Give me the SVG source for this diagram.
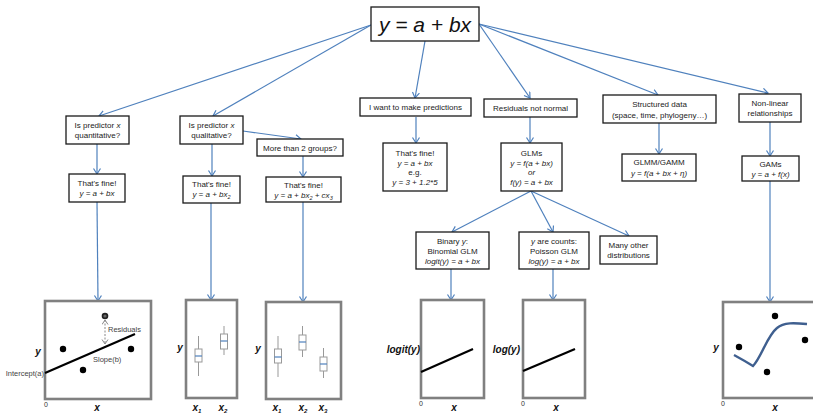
<svg xmlns="http://www.w3.org/2000/svg" width="813" height="413" viewBox="0 0 813 413">
<defs>
<marker id="arr" markerUnits="userSpaceOnUse" markerWidth="10" markerHeight="10" refX="6" refY="4" orient="auto">
<path d="M0.5,0.5 L6,4 L0.5,7.5" fill="none" stroke="#4f81bd" stroke-width="1.2"/>
</marker>
<marker id="garr" markerUnits="userSpaceOnUse" markerWidth="10" markerHeight="10" refX="5" refY="3.5" orient="auto-start-reverse">
<path d="M0.5,0.5 L5,3.5 L0.5,6.5" fill="none" stroke="#888" stroke-width="1"/>
</marker>
<style>
.box{fill:#fff;stroke:#1a1a1a;stroke-width:1.3}
.t{font-family:"Liberation Sans",Arial,sans-serif;font-size:8px;fill:#222;text-anchor:middle}
.i{font-style:italic}
.c{fill:none;stroke:#4f81bd;stroke-width:1.2;marker-end:url(#arr)}
.frame{fill:#fff;stroke:#808080;stroke-width:2.6}
.ax{font-family:"Liberation Sans",Arial,sans-serif;font-size:10px;font-weight:bold;font-style:italic;fill:#111;text-anchor:middle}
.zero{font-family:"Liberation Sans",Arial,sans-serif;font-size:7px;fill:#333;text-anchor:middle}
.sm{font-family:"Liberation Sans",Arial,sans-serif;font-size:7.5px;fill:#444}
.bp{fill:#fff;stroke:#999;stroke-width:1}
.med{stroke:#4f81bd;stroke-width:1.2}
.fit{stroke:#000;stroke-width:2.2}
</style>
</defs>
<rect width="813" height="413" fill="#fff"/>

<g id="connectors">
<line class="c" x1="371" y1="25" x2="99" y2="116"/>
<line class="c" x1="371" y1="25" x2="213" y2="116"/>
<line class="c" x1="425" y1="41" x2="415" y2="98"/>
<line class="c" x1="479" y1="24" x2="530" y2="98"/>
<line class="c" x1="479" y1="24" x2="658" y2="95"/>
<line class="c" x1="479" y1="24" x2="768" y2="93"/>
<line class="c" x1="97" y1="144" x2="97" y2="174"/>
<line class="c" x1="212" y1="144" x2="212" y2="176"/>
<line class="c" x1="243" y1="131" x2="301" y2="139"/>
<line class="c" x1="303" y1="156" x2="303" y2="177"/>
<line class="c" x1="416" y1="117" x2="416" y2="143"/>
<line class="c" x1="530" y1="117" x2="530" y2="143"/>
<line class="c" x1="659" y1="123" x2="659" y2="154"/>
<line class="c" x1="770" y1="122" x2="770" y2="156"/>
<line class="c" x1="531" y1="191" x2="452" y2="232"/>
<line class="c" x1="531" y1="191" x2="553" y2="232"/>
<line class="c" x1="531" y1="191" x2="629" y2="236"/>
<line class="c" x1="97" y1="202" x2="98" y2="301"/>
<line class="c" x1="211" y1="202" x2="211" y2="300"/>
<line class="c" x1="303" y1="202" x2="303" y2="302"/>
<line class="c" x1="451" y1="269" x2="451" y2="300"/>
<line class="c" x1="553" y1="269" x2="553" y2="300"/>
<line class="c" x1="770" y1="181" x2="770" y2="302"/>
</g>

<g id="root">
<rect class="box" x="371" y="7" width="108" height="34"/>
<text class="t i" x="425" y="32" style="font-size:21px;fill:#111">y = a + bx</text>
</g>

<g id="quant">
<rect class="box" x="66" y="116" width="63" height="28"/>
<text class="t" x="97.5" y="128">Is predictor <tspan class="i">x</tspan></text>
<text class="t" x="97.5" y="138">quantitative?</text>
</g>
<g id="fine1">
<rect class="box" x="69" y="174" width="56" height="28"/>
<text class="t" x="97" y="186">That's fine!</text>
<text class="t i" x="97" y="196">y = a + bx</text>
</g>

<g id="qual">
<rect class="box" x="180" y="116" width="63" height="28"/>
<text class="t" x="211.5" y="128">Is predictor <tspan class="i">x</tspan></text>
<text class="t" x="211.5" y="138">qualitative?</text>
</g>
<g id="fine2">
<rect class="box" x="183" y="176" width="57" height="27"/>
<text class="t" x="211.5" y="187">That's fine!</text>
<text class="t i" x="211.5" y="197">y = a + bx<tspan font-size="5.5" dy="2">2</tspan></text>
</g>

<g id="groups">
<rect class="box" x="257" y="139" width="86" height="17"/>
<text class="t" x="300" y="150.5">More than 2 groups?</text>
</g>
<g id="fine3">
<rect class="box" x="266" y="177" width="75" height="25"/>
<text class="t" x="303.5" y="187.5">That's fine!</text>
<text class="t i" x="303.5" y="197.5">y = a + bx<tspan font-size="5.5" dy="2">2</tspan><tspan dy="-2"> + cx</tspan><tspan font-size="5.5" dy="2">3</tspan></text>
</g>

<g id="predict">
<rect class="box" x="360" y="98" width="111" height="18"/>
<text class="t" x="415.5" y="110">I want to make predictions</text>
</g>
<g id="fine4">
<rect class="box" x="383" y="143" width="64" height="48"/>
<text class="t" x="415" y="156">That's fine!</text>
<text class="t i" x="415" y="166">y = a + bx</text>
<text class="t" x="415" y="175">e.g.</text>
<text class="t i" x="415" y="184.5">y = 3 + 1.2*5</text>
</g>

<g id="resid">
<rect class="box" x="484" y="99" width="93" height="18"/>
<text class="t" x="530.5" y="111">Residuals not normal</text>
</g>
<g id="glms">
<rect class="box" x="501" y="143" width="61" height="48"/>
<text class="t" x="531.5" y="156">GLMs</text>
<text class="t i" x="531.5" y="166">y = f(a + bx)</text>
<text class="t i" x="531.5" y="175">or</text>
<text class="t i" x="531.5" y="184.5">f(y) = a + bx</text>
</g>

<g id="struct">
<rect class="box" x="603" y="95" width="113" height="28"/>
<text class="t" x="659.5" y="107">Structured data</text>
<text class="t" x="659.5" y="117.5">(space, time, phylogeny…)</text>
</g>
<g id="glmm">
<rect class="box" x="622" y="154" width="74" height="27"/>
<text class="t" x="659" y="165">GLMM/GAMM</text>
<text class="t i" x="659" y="175.5">y = f(a + bx + η)</text>
</g>

<g id="nonlin">
<rect class="box" x="739" y="94" width="62" height="28"/>
<text class="t" x="770" y="105.5">Non-linear</text>
<text class="t" x="770" y="116">relationships</text>
</g>
<g id="gams">
<rect class="box" x="742" y="156" width="57" height="25"/>
<text class="t" x="770.5" y="166.5">GAMs</text>
<text class="t i" x="770.5" y="177">y = a + f(x)</text>
</g>

<g id="binary">
<rect class="box" x="416" y="232" width="73" height="37"/>
<text class="t" x="452.5" y="244">Binary <tspan class="i">y</tspan>:</text>
<text class="t" x="452.5" y="254">Binomial GLM</text>
<text class="t i" x="452.5" y="263.5">logit(y) = a + bx</text>
</g>
<g id="counts">
<rect class="box" x="519" y="232" width="70" height="37"/>
<text class="t" x="554" y="244"><tspan class="i">y</tspan> are counts:</text>
<text class="t" x="554" y="254">Poisson GLM</text>
<text class="t i" x="554" y="263.5">log(y) = a + bx</text>
</g>
<g id="other">
<rect class="box" x="600" y="236" width="57" height="28"/>
<text class="t" x="628.5" y="248">Many other</text>
<text class="t" x="628.5" y="258">distributions</text>
</g>

<g id="plot1">
<rect class="frame" x="45" y="301" width="106" height="98"/>
<line class="fit" x1="45" y1="373" x2="135" y2="334"/>
<circle cx="63" cy="349" r="3.2" fill="#000"/>
<circle cx="83" cy="370" r="3.2" fill="#000"/>
<circle cx="131" cy="349" r="3.2" fill="#000"/>
<circle cx="105" cy="316" r="3.3" fill="#222"/>
<circle cx="105" cy="316" r="1.6" fill="#666"/>
<line x1="105" y1="320" x2="105" y2="344" stroke="#888" stroke-width="1" stroke-dasharray="2,1.5" marker-start="url(#garr)" marker-end="url(#garr)"/>
<text class="sm" x="108" y="332">Residuals</text>
<text class="sm" x="93" y="362">Slope(b)</text>
<text class="sm" x="44" y="376" text-anchor="end">Intercept(a)</text>
<text class="ax" x="38" y="355">y</text>
<text class="zero" x="46" y="407">0</text>
<text class="ax" x="97" y="411">x</text>
</g>

<g id="plot2">
<rect class="frame" x="186" y="300" width="51" height="98"/>
<line x1="198.5" y1="336" x2="198.5" y2="376" stroke="#999" stroke-width="1"/>
<rect class="bp" x="195" y="349" width="7" height="13"/>
<line class="med" x1="195" y1="356" x2="202" y2="356"/>
<line x1="224" y1="326" x2="224" y2="355" stroke="#999" stroke-width="1"/>
<rect class="bp" x="220.5" y="334" width="7" height="15"/>
<line class="med" x1="220.5" y1="341" x2="227.5" y2="341"/>
<text class="ax" x="180" y="351">y</text>
<text class="ax" x="197" y="411">x<tspan font-size="6" dy="2">1</tspan></text>
<text class="ax" x="223" y="411">x<tspan font-size="6" dy="2">2</tspan></text>
</g>

<g id="plot3">
<rect class="frame" x="266" y="302" width="75" height="97"/>
<line x1="278" y1="336" x2="278" y2="377" stroke="#999" stroke-width="1"/>
<rect class="bp" x="274.5" y="349" width="7" height="14"/>
<line class="med" x1="274.5" y1="357" x2="281.5" y2="357"/>
<line x1="302.5" y1="326" x2="302.5" y2="357" stroke="#999" stroke-width="1"/>
<rect class="bp" x="299" y="335" width="7" height="15"/>
<line class="med" x1="299" y1="342" x2="306" y2="342"/>
<line x1="323.5" y1="348" x2="323.5" y2="378" stroke="#999" stroke-width="1"/>
<rect class="bp" x="320" y="357" width="7" height="14"/>
<line class="med" x1="320" y1="364" x2="327" y2="364"/>
<text class="ax" x="258" y="352">y</text>
<text class="ax" x="277" y="411">x<tspan font-size="6" dy="2">1</tspan></text>
<text class="ax" x="303" y="411">x<tspan font-size="6" dy="2">2</tspan></text>
<text class="ax" x="323" y="411">x<tspan font-size="6" dy="2">3</tspan></text>
</g>

<g id="plot4">
<rect class="frame" x="421" y="300" width="63" height="98"/>
<line class="fit" x1="421" y1="372" x2="473" y2="349"/>
<text class="ax" x="420" y="353" style="text-anchor:end">logit(y)</text>
<text class="zero" x="421" y="406">0</text>
<text class="ax" x="454" y="411">x</text>
</g>

<g id="plot5">
<rect class="frame" x="523" y="300" width="62" height="98"/>
<line class="fit" x1="523" y1="371" x2="575" y2="349"/>
<text class="ax" x="520" y="353" style="text-anchor:end">log(y)</text>
<text class="zero" x="523" y="406">0</text>
<text class="ax" x="556" y="411">x</text>
</g>

<g id="plot6">
<rect class="frame" x="723" y="302" width="100" height="96"/>
<path d="M734,355 Q745,361 753,366 C762,356 767,336 777,328 C784,322 795,323 807,324" fill="none" stroke="#3f5f8f" stroke-width="2.4"/>
<circle cx="775" cy="316" r="3.2" fill="#000"/>
<circle cx="739" cy="347" r="3.2" fill="#000"/>
<circle cx="767" cy="372" r="3.2" fill="#000"/>
<circle cx="805" cy="340" r="3.2" fill="#000"/>
<text class="ax" x="716" y="351">y</text>
<text class="zero" x="723" y="406">0</text>
<text class="ax" x="775" y="411">x</text>
</g>
</svg>
